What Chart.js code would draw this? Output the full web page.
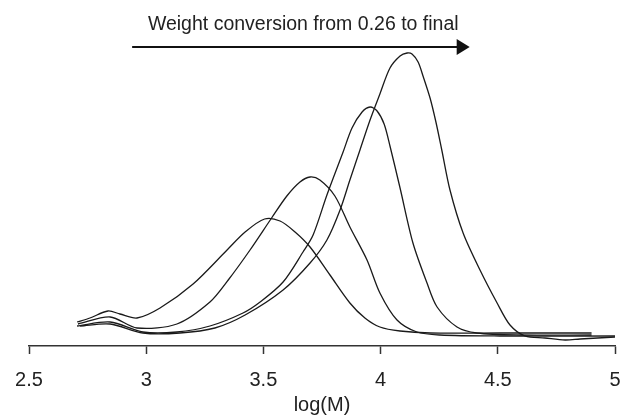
<!DOCTYPE html>
<html>
<head>
<meta charset="utf-8">
<script src="https://cdn.jsdelivr.net/npm/chart.js@4/dist/chart.umd.min.js"></script>
<style>
html,body{margin:0;padding:0;background:#fff;}
#wrap{width:621px;height:419px;position:relative;}
</style>
</head>
<body>
<div id="wrap"><canvas id="c" width="621" height="419"></canvas></div>
<script>
// log(M) tick labels
const xTicks = [2.5, 3, 3.5, 4, 4.5, 5];

// Curve 1 (conversion 0.26)
const c1x = [2.705,2.760,2.837,2.888,2.961,3.059,3.200,3.345,3.422,3.505,3.571,3.635,3.699,3.784,3.869,3.933,3.997,4.083,4.211,4.509,4.900];
const c1y = [24,28,35,32,28,38,62,96,114,127,125,114,99,71,43,28,19,15,13,13,13];

// Curve 2
const c2x = [2.709,2.846,2.961,3.131,3.272,3.350,3.443,3.535,3.600,3.656,3.699,3.741,3.805,3.869,3.942,3.997,4.070,4.155,4.253,4.509,5.000];
const c2y = [22,29,18,22,44,66,96,128,150,164,169,166,150,119,86,53,26,14,11,10,10];

// Curve 3
const c3x = [2.705,2.846,2.986,3.131,3.272,3.413,3.486,3.584,3.669,3.712,3.771,3.840,3.878,3.921,3.955,3.985,4.015,4.040,4.083,4.138,4.198,4.241,4.326,4.411,4.595,4.900];
const c3y = [20,24,14,14,20,33,44,64,94,111,151,194,218,234,239,235,222,200,158,103,63,39,19,13,11,11];

// Curve 4 (final)
const c4x = [2.718,2.846,2.986,3.144,3.293,3.422,3.584,3.699,3.771,3.827,3.869,3.912,3.955,3.997,4.040,4.083,4.113,4.134,4.160,4.181,4.211,4.236,4.261,4.296,4.352,4.424,4.497,4.552,4.616,4.701,4.787,4.851,5.000];
const c4y = [20,22,13,13,18,31,56,83,106,136,166,196,226,252,278,290,293,292,284,270,248,224,196,156,113,76,43,21,10,8,6,7,9];

// Annotation arrow (data coordinates)
const arrowX = [2.94, 4.38];
const arrowY = 299;
const arrowLabel = 'Weight conversion from 0.26 to final';
const arrowLabelX = 3.67;

const pts = (xs, ys) => xs.map((x, i) => ({x: x, y: ys[i]}));
const lineStyle = {borderColor: '#1a1a1a', borderWidth: 1.3, pointRadius: 0, tension: 0.3, fill: false};

const annot = {
  id: 'annot',
  afterDraw(chart) {
    const ctx = chart.ctx, xs = chart.scales.x, ys = chart.scales.y;
    const x0 = xs.getPixelForValue(arrowX[0]);
    const x1 = xs.getPixelForValue(arrowX[1]);
    const y = ys.getPixelForValue(arrowY);
    ctx.save();
    ctx.strokeStyle = '#111';
    ctx.fillStyle = '#111';
    ctx.lineWidth = 2;
    ctx.beginPath();
    ctx.moveTo(x0, y);
    ctx.lineTo(x1 - 10, y);
    ctx.stroke();
    ctx.beginPath();
    ctx.moveTo(x1, y);
    ctx.lineTo(x1 - 13, y - 8);
    ctx.lineTo(x1 - 13, y + 8);
    ctx.closePath();
    ctx.fill();
    ctx.font = '19.5px "Liberation Sans", Arial, sans-serif';
    ctx.textAlign = 'center';
    ctx.textBaseline = 'middle';
    ctx.fillStyle = '#222';
    ctx.fillText(arrowLabel, xs.getPixelForValue(arrowLabelX), y - 22);
    ctx.restore();
  }
};

new Chart(document.getElementById('c'), {
  type: 'line',
  data: {
    datasets: [
      Object.assign({label: 'c1', data: pts(c1x, c1y)}, lineStyle),
      Object.assign({label: 'c2', data: pts(c2x, c2y)}, lineStyle),
      Object.assign({label: 'c3', data: pts(c3x, c3y)}, lineStyle),
      Object.assign({label: 'c4', data: pts(c4x, c4y)}, lineStyle)
    ]
  },
  options: {
    responsive: false,
    animation: false,
    events: [],
    layout: {padding: {left: 29, right: 6, top: 46, bottom: 0}},
    plugins: {legend: {display: false}, tooltip: {enabled: false}},
    scales: {
      x: {
        type: 'linear',
        min: 2.5,
        max: 5,
        afterBuildTicks: (axis) => { axis.ticks = xTicks.map(v => ({value: v})); },
        afterFit: (s) => { s.paddingLeft = 0; s.paddingRight = 0; s.height = 73; },
        ticks: {
          color: '#222',
          padding: 14,
          maxRotation: 0,
          font: {family: '"Liberation Sans", Arial, sans-serif', size: 20},
          callback: (v) => String(v)
        },
        grid: {drawOnChartArea: false, drawTicks: true, tickLength: 8, color: '#333', tickWidth: 1.5},
        border: {display: true, color: '#333', width: 1.5},
        title: {
          display: true,
          text: 'log(M)',
          color: '#222',
          padding: {top: 0, bottom: 2},
          font: {family: '"Liberation Sans", Arial, sans-serif', size: 20}
        }
      },
      y: {
        type: 'linear',
        display: false,
        min: 0,
        max: 300
      }
    }
  },
  plugins: [annot]
});
</script>
</body>
</html>
